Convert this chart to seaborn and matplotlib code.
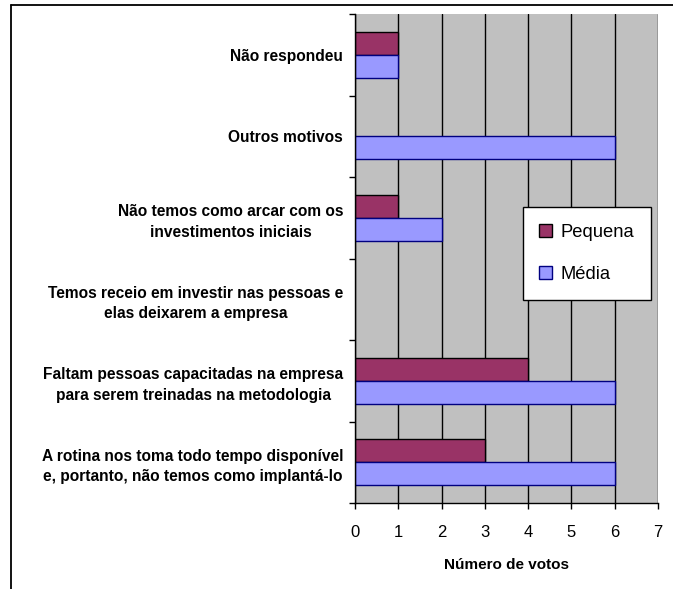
import matplotlib
matplotlib.use("Agg")
import matplotlib.pyplot as plt
from matplotlib.patches import Patch
from matplotlib.lines import Line2D
from matplotlib.ticker import FixedLocator, MultipleLocator
import seaborn as sns
import pandas as pd

# Survey answers: why the methodology was not adopted, by company size
categories = [
    "Não respondeu",
    "Outros motivos",
    "Não temos como arcar com os\ninvestimentos iniciais",
    "Temos receio em investir nas pessoas e\nelas deixarem a empresa",
    "Faltam pessoas capacitadas na empresa\npara serem treinadas na metodologia",
    "A rotina nos toma todo tempo disponível\ne, portanto, não temos como implantá-lo",
]
pequena = [1, 0, 1, 0, 4, 3]
media = [1, 6, 2, 0, 6, 6]
series = ["Pequena", "Média"]
face_colors = {"Pequena": "#993366", "Média": "#9999FF"}
edge_colors = {"Pequena": "#000000", "Média": "#000080"}

df = pd.DataFrame({
    "motivo": categories * 2,
    "votos": pequena + media,
    "porte": [series[0]] * len(categories) + [series[1]] * len(categories),
})

sns.set_theme(style="white")
font = ["Liberation Sans", "DejaVu Sans"]
plt.rcParams["font.family"] = font
plt.rcParams["text.color"] = "black"
plt.rcParams["axes.labelcolor"] = "black"
plt.rcParams["xtick.color"] = "black"
plt.rcParams["ytick.color"] = "black"

fig = plt.figure(figsize=(6.73, 5.89), dpi=100)
fig.patch.set_facecolor("white")
ax = fig.add_axes([355 / 673, 1 - 503 / 589, 303 / 673, 489 / 589])
ax.set_facecolor("#C0C0C0")

sns.barplot(data=df, y="motivo", x="votos", hue="porte", order=categories,
            hue_order=series, orient="h", palette=face_colors, saturation=1,
            width=0.565, dodge=True, legend=False, ax=ax, linewidth=1.0)

for cont, name in zip(ax.containers, series):
    for bar in cont:
        bar.set_edgecolor(edge_colors[name])
        bar.set_linewidth(1.0)
        if bar.get_width() == 0:
            bar.set_visible(False)

ax.set_xlim(0, 7)
ax.set_ylim(len(categories) - 0.5, -0.5)
ax.xaxis.set_major_locator(MultipleLocator(1))

# vertical gridlines
ax.set_axisbelow(True)
ax.grid(axis="x", color="black", linewidth=1.0)
ax.grid(axis="y", visible=False)
gl = ax.xaxis.get_gridlines()
gl[-1].set_color("#808080")

for side in ["top", "right"]:
    ax.spines[side].set_visible(False)
for side in ["left", "bottom"]:
    ax.spines[side].set_visible(True)
    ax.spines[side].set_color("black")
    ax.spines[side].set_linewidth(1.0)

# category boundaries get the tick marks, labels sit at the centres
ax.yaxis.set_minor_locator(FixedLocator([i - 0.5 for i in range(len(categories) + 1)]))
ax.tick_params(axis="y", which="major", length=0, pad=8.5, labelcolor="black")
ax.tick_params(axis="y", which="minor", left=True, length=4, width=1, color="black", direction="out")
ax.tick_params(axis="x", which="major", bottom=True, length=4, width=1, color="black",
               direction="out", pad=12, labelsize=12, labelcolor="black")
for lab in ax.get_yticklabels():
    lab.set_fontweight("bold")
    lab.set_fontsize(11.2)
    lab.set_color("black")
    lab.set_horizontalalignment("right")
    lab.set_multialignment("center")
    lab.set_linespacing(1.45)

ax.set_ylabel("")
ax.set_xlabel("Número de votos", fontweight="bold", fontsize=11, color="black")
ax.xaxis.set_label_coords(0.5, -0.127)
ax.xaxis.label.set_verticalalignment("center")

handles = [Patch(facecolor=face_colors[s], edgecolor=edge_colors[s], linewidth=1.0, label=s)
           for s in series]
leg = ax.legend(handles=handles, loc="upper left", bbox_to_anchor=(0.554, 0.605),
                borderaxespad=0, frameon=True, fancybox=False, fontsize=13.2,
                handlelength=0.7, handleheight=0.7, handletextpad=0.45,
                labelspacing=1.4, borderpad=0.9)
leg.get_frame().set_edgecolor("black")
leg.get_frame().set_facecolor("white")
leg.get_frame().set_linewidth(1.0)
leg.get_frame().set_alpha(1)
for t in leg.get_texts():
    t.set_color("black")

# outer frame lines of the chart object
fig.add_artist(Line2D([11 / 673, 1], [1 - 5 / 589, 1 - 5 / 589], color="black",
                      linewidth=1.3, transform=fig.transFigure))
fig.add_artist(Line2D([11 / 673, 11 / 673], [0, 1 - 5 / 589], color="black",
                      linewidth=1.3, transform=fig.transFigure))

fig.savefig("out.png", dpi=100)
